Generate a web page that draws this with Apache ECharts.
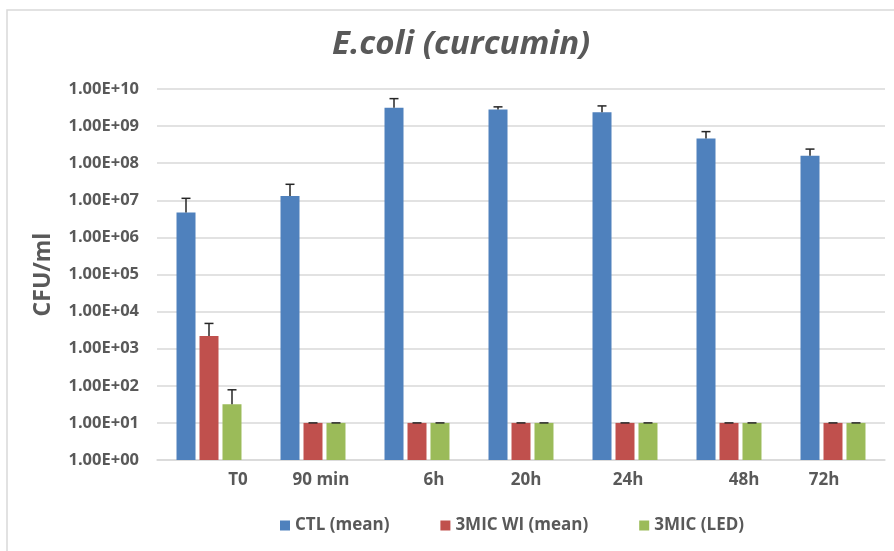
<!DOCTYPE html>
<html>
<head>
<meta charset="utf-8">
<title>E.coli (curcumin)</title>
<script src="https://cdn.jsdelivr.net/npm/echarts@6/dist/echarts.min.js"></script>
<style>
  html, body { margin: 0; padding: 0; background: #fff; }
  #chart { width: 894px; height: 551px; }
</style>
</head>
<body>
<div id="chart"></div>
<script>
// categories (time points)
var categories = ['T0', '90 min', '6h', '20h', '24h', '48h', '72h'];

// bar heights, CFU/ml
var ctlMean = [4.7e6, 1.3e7, 3.1e9, 2.8e9, 2.35e9, 4.6e8, 1.6e8];
var micWiMean = [2.2e3, 10, 10, 10, 10, 10, 10];
var micLed = [32, 10, 10, 10, 10, 10, 10];

// upper end of the error bars
var ctlUpper = [1.13e7, 2.7e7, 5.5e9, 3.3e9, 3.5e9, 7.1e8, 2.4e8];
var micWiUpper = [4.8e3, 10, 10, 10, 10, 10, 10];
var micLedUpper = [78, 10, 10, 10, 10, 10, 10];

var seriesNames = ['CTL (mean)', '3MIC WI (mean)', '3MIC (LED)'];
var colors = ['#4f81bd', '#c0504d', '#9bbb59'];

// x labels in the original sit a bit off their groups
var labelShift = [29, 8, 17, 5, 3, 15, -9];

var BAR_W = 19;
var BAR_STEP = 23;   // bar width + gap

var labelRich = {};
labelShift.forEach(function (s, i) {
  labelRich['s' + i] = {
    fontFamily: 'Open Sans',
    fontWeight: 'bold',
    fontSize: 17,
    color: '#595959',
    padding: s >= 0 ? [0, 0, 0, 2 * s] : [0, -2 * s, 0, 0]
  };
});

// 1.00E+10 style, like the spreadsheet
function sci(v) {
  var exp = Math.round(Math.log(v) / Math.LN10);
  var mant = v / Math.pow(10, exp);
  return mant.toFixed(2) + 'E+' + (exp < 10 ? '0' : '') + exp;
}

function errorSeries(means, uppers, idx) {
  var data = means.map(function (v, i) { return [i, v, uppers[i]]; });
  return {
    type: 'custom',
    z: 5,
    silent: true,
    data: data,
    encode: {x: 0, y: 1},
    renderItem: function (params, api) {
      var base = api.coord([api.value(0), api.value(1)]);
      var top = api.coord([api.value(0), api.value(2)]);
      var x = base[0] + (idx - 1) * BAR_STEP;
      var style = {stroke: '#262626', lineWidth: 1.5};
      return {
        type: 'group',
        children: [
          {type: 'line', shape: {x1: x, y1: base[1], x2: x, y2: top[1]}, style: style},
          {type: 'line', shape: {x1: x - 4.5, y1: top[1], x2: x + 4.5, y2: top[1]}, style: style}
        ]
      };
    }
  };
}

function barSeries(name, values, color) {
  return {
    name: name,
    type: 'bar',
    data: values,
    barWidth: BAR_W,
    barGap: '21%',
    itemStyle: {color: color}
  };
}

var chart = echarts.init(document.getElementById('chart'));
chart.setOption({
  animation: false,
  backgroundColor: '#fff',
  color: colors,
  graphic: [{
    type: 'rect',
    shape: {x: 7, y: 10, width: 1000, height: 800},
    style: {fill: 'none', stroke: '#d9d9d9', lineWidth: 1.5},
    silent: true
  }],
  title: {
    text: 'E.coli (curcumin)',
    left: 327,
    top: 23,
    textStyle: {
      fontFamily: 'Open Sans',
      fontStyle: 'italic',
      fontWeight: 'bold',
      fontSize: 33,
      color: '#595959'
    }
  },
  legend: {
    data: seriesNames,
    left: 275,
    top: 512,
    itemWidth: 10,
    itemHeight: 10,
    itemGap: 51,
    icon: 'rect',
    textStyle: {
      fontFamily: 'Open Sans',
      fontWeight: 'bold',
      fontSize: 17,
      color: '#595959'
    }
  },
  grid: {left: 157, right: 9, top: 89, bottom: 91},
  xAxis: {
    type: 'category',
    data: categories,
    axisTick: {show: false},
    axisLine: {lineStyle: {color: '#d9d9d9', width: 1.5}},
    axisLabel: {
      margin: 12,
      formatter: function (v, i) { return '{s' + i + '|' + v + '}'; },
      rich: labelRich
    }
  },
  yAxis: {
    type: 'log',
    logBase: 10,
    min: 1,
    max: 1e10,
    interval: 1,
    splitNumber: 10,
    name: 'CFU/ml',
    nameLocation: 'middle',
    nameGap: 102,
    nameRotate: 90,
    nameTextStyle: {
      fontFamily: 'Open Sans',
      fontWeight: 'bold',
      fontSize: 23,
      color: '#595959'
    },
    axisLine: {show: false},
    axisTick: {show: false},
    splitLine: {lineStyle: {color: '#d9d9d9', width: 1.5}},
    axisLabel: {
      margin: 18,
      fontFamily: 'Open Sans',
      fontWeight: 'bold',
      fontSize: 16.5,
      color: '#595959',
      formatter: sci
    }
  },
  series: [
    barSeries(seriesNames[0], ctlMean, colors[0]),
    barSeries(seriesNames[1], micWiMean, colors[1]),
    barSeries(seriesNames[2], micLed, colors[2]),
    errorSeries(ctlMean, ctlUpper, 0),
    errorSeries(micWiMean, micWiUpper, 1),
    errorSeries(micLed, micLedUpper, 2)
  ]
});
</script>
</body>
</html>
